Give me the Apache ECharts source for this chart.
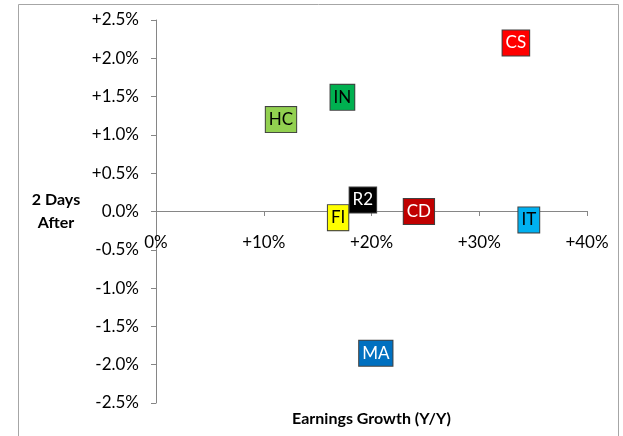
<!DOCTYPE html>
<html>
<head>
<meta charset="utf-8">
<script src="https://cdn.jsdelivr.net/npm/echarts@6/dist/echarts.min.js"></script>
<style>
  html, body { margin: 0; padding: 0; background: #fff; }
  #chart { width: 623px; height: 436px; }
</style>
</head>
<body>
<div id="chart"></div>
<script>
// sectors and their readings (x = earnings growth %, y = return 2 days after %)
var sectors = ['CS', 'IN', 'HC', 'R2', 'FI', 'CD', 'IT', 'MA'];
var growth = [33.4, 17.3, 11.6, 19.2, 16.9, 24.4, 34.6, 20.4];
var after2d = [2.2, 1.49, 1.2, 0.15, -0.08, 0.0, -0.11, -1.85];
var xTicks = [0, 10, 20, 30, 40];
var yTicks = [-2.5, -2.0, -1.5, -1.0, -0.5, 0.0, 0.5, 1.0, 1.5, 2.0, 2.5];

var boxColors = {
    CS: ['#ff0000', '#fff'],
    IN: ['#00b050', '#000'],
    HC: ['#92d050', '#000'],
    R2: ['#000000', '#fff'],
    FI: ['#ffff00', '#000'],
    CD: ['#c00000', '#fff'],
    IT: ['#00b0f0', '#000'],
    MA: ['#0070c0', '#fff']
};

var font = 'Lato, "Open Sans", sans-serif';
var axisColor = '#868686';

var points = [];
for (var i = 0; i < sectors.length; i++) {
    var c = boxColors[sectors[i]];
    points.push({
        name: sectors[i],
        value: [growth[i], after2d[i]],
        label: {
            backgroundColor: c[0],
            color: c[1]
        }
    });
}

var chart = echarts.init(document.getElementById('chart'));
chart.setOption({
    animation: false,
    textStyle: { fontFamily: font },
    graphic: [{
        type: 'rect',
        shape: { x: 18.5, y: 4.5, width: 600, height: 500 },
        style: { fill: null, stroke: '#a6a6a6', lineWidth: 1 },
        silent: true
    }],
    grid: { left: 156, right: 36, top: 20, bottom: 33, containLabel: false, outerBoundsMode: 'none' },
    xAxis: {
        type: 'value',
        min: xTicks[0],
        max: xTicks[xTicks.length - 1],
        interval: 10,
        // y range is symmetric, so the zero line sits in the middle of the grid
        offset: -192,
        name: 'Earnings Growth (Y/Y)',
        nameLocation: 'middle',
        nameGap: 200,
        nameTextStyle: { fontSize: 16, fontWeight: 'bold', color: '#000', fontFamily: font },
        axisLine: { onZero: false, lineStyle: { color: axisColor } },
        axisTick: { show: true, length: 5, lineStyle: { color: axisColor } },
        axisLabel: {
            margin: 23,
            fontSize: 17,
            color: '#000',
            fontFamily: font,
            formatter: function (v) { return v === 0 ? '0%' : '+' + v + '%'; }
        },
        splitLine: { show: false }
    },
    yAxis: {
        type: 'value',
        min: yTicks[0],
        max: yTicks[yTicks.length - 1],
        interval: 0.5,
        name: '2 Days\nAfter',
        nameLocation: 'middle',
        nameRotate: 0,
        nameGap: 100,
        nameTextStyle: { fontSize: 16, fontWeight: 'bold', color: '#000', align: 'center', lineHeight: 23, padding: [8, 0, 0, 0], fontFamily: font },
        axisLine: { show: true, onZero: false, lineStyle: { color: axisColor } },
        axisTick: { show: true, length: 5, lineStyle: { color: axisColor } },
        axisLabel: {
            margin: 17,
            fontSize: 17,
            color: '#000',
            fontFamily: font,
            formatter: function (v) {
                var s = v.toFixed(1) + '%';
                return v > 0 ? '+' + s : s;
            }
        },
        splitLine: { show: false }
    },
    series: [{
        type: 'scatter',
        symbolSize: 0,
        itemStyle: { opacity: 1 },
        data: points,
        label: {
            show: true,
            position: 'inside',
            formatter: '{b}',
            fontSize: 17,
            fontFamily: font,
            borderColor: '#404040',
            borderWidth: 1,
            padding: [5, 3, 3, 3]
        }
    }]
});
</script>
</body>
</html>
